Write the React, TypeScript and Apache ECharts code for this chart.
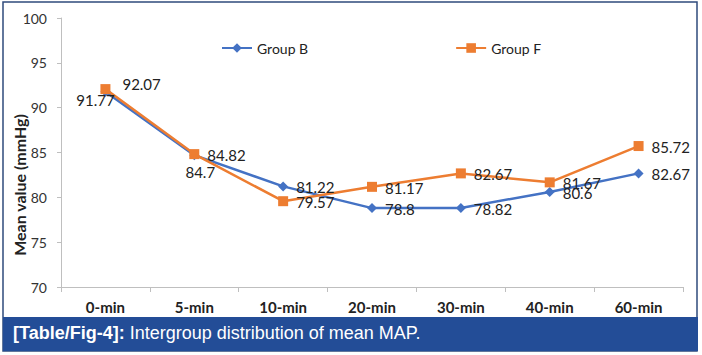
import React, { useEffect, useRef } from "react";
import * as echarts from "echarts";

const categories = ["0-min", "5-min", "10-min", "20-min", "30-min", "40-min", "60-min"];
const groupB = [91.77, 84.7, 81.22, 78.8, 78.82, 80.6, 82.67];
const groupF = [92.07, 84.82, 79.57, 81.17, 82.67, 81.67, 85.72];
const yTicks = { min: 70, max: 100, interval: 5 };
const caption = "[Table/Fig-4]:";
const captionRest = " Intergroup distribution of mean MAP.";
const yName = "Mean value (mmHg)";

const FONT = "Lato, 'Noto Sans', sans-serif";

export default function App() {
  const ref = useRef<HTMLDivElement>(null);
  useEffect(() => {
    document.body.style.margin = "0";
    if (!ref.current) return;
    const chart = echarts.init(ref.current, undefined, { renderer: "svg" });

    const labelBase = {
      show: true,
      position: "right",
      distance: 8,
      offset: [0, 1],
      fontFamily: FONT,
      fontSize: 15,
      color: "#222",
    };

    const bData = groupB.map((v, i) => {
      if (i === 0) return { value: v, label: { position: "inside", offset: [-10, 8] } };
      if (i === 1) return { value: v, label: { position: "inside", offset: [6, 17] } };
      return v;
    });
    const fData = groupF.map((v, i) => {
      if (i === 0) return { value: v, label: { offset: [4, -5] } };
      return v;
    });

    chart.setOption({
      animation: false,
      backgroundColor: "#ffffff",
      grid: { left: 61, right: 19, top: 18, bottom: 68 },
      legend: {
        data: ["Group B", "Group F"],
        left: 216,
        top: 36,
        itemWidth: 30,
        itemHeight: 12,
        itemGap: 147,
        textStyle: { fontFamily: FONT, fontSize: 14, color: "#222" },
      },
      xAxis: {
        type: "category",
        data: categories,
        boundaryGap: true,
        axisLine: { lineStyle: { color: "#bfbfbf", width: 1 } },
        axisTick: { show: true, length: 5, interval: 0, lineStyle: { color: "#bfbfbf" } },
        axisLabel: {
          interval: 0,
          margin: 12,
          fontFamily: FONT,
          fontSize: 15,
          fontWeight: "bold",
          color: "#222",
        },
        splitLine: { show: false },
      },
      yAxis: {
        type: "value",
        min: yTicks.min,
        max: yTicks.max,
        interval: yTicks.interval,
        axisLine: { show: true, lineStyle: { color: "#bfbfbf", width: 1 } },
        axisTick: { show: true, length: 4, lineStyle: { color: "#bfbfbf" } },
        axisLabel: { margin: 14, fontFamily: FONT, fontSize: 14, color: "#333" },
        splitLine: { show: false },
      },
      graphic: [
        {
          type: "rect",
          shape: { x: 3, y: 2, width: 694, height: 349 },
          style: { fill: "none", stroke: "#2f4b7c", lineWidth: 1.5 },
          silent: true,
        },
        {
          type: "rect",
          shape: { x: 3, y: 317, width: 695, height: 34 },
          style: { fill: "#234d97" },
          silent: true,
        },
        {
          type: "text",
          x: 13,
          y: 333,
          style: {
            text: "{b|" + caption + "}{r|" + captionRest + "}",
            verticalAlign: "middle",
            rich: {
              b: { fontFamily: "'Liberation Sans', Arial, sans-serif", fontSize: 18, fontWeight: "bold", fill: "#ffffff" },
              r: { fontFamily: "'Liberation Sans', Arial, sans-serif", fontSize: 18, fill: "#ffffff" },
            },
          },
          silent: true,
        },
        {
          type: "text",
          x: 19,
          y: 185,
          rotation: Math.PI / 2,
          style: {
            text: yName,
            align: "center",
            verticalAlign: "middle",
            fontFamily: FONT,
            fontSize: 16,
            fontWeight: "bold",
            fill: "#222",
          },
          silent: true,
        },
      ],
      series: [
        {
          name: "Group B",
          type: "line",
          data: bData,
          symbol: "diamond",
          symbolSize: 10,
          lineStyle: { color: "#4472C4", width: 2.5 },
          itemStyle: { color: "#4472C4" },
          label: labelBase,
        },
        {
          name: "Group F",
          type: "line",
          data: fData,
          symbol: "rect",
          symbolSize: 10,
          lineStyle: { color: "#ED7D31", width: 2.5 },
          itemStyle: { color: "#ED7D31" },
          label: labelBase,
        },
      ],
    });
    return () => chart.dispose();
  }, []);
  return <div ref={ref} style={{ width: 702, height: 355 }} />;
}
